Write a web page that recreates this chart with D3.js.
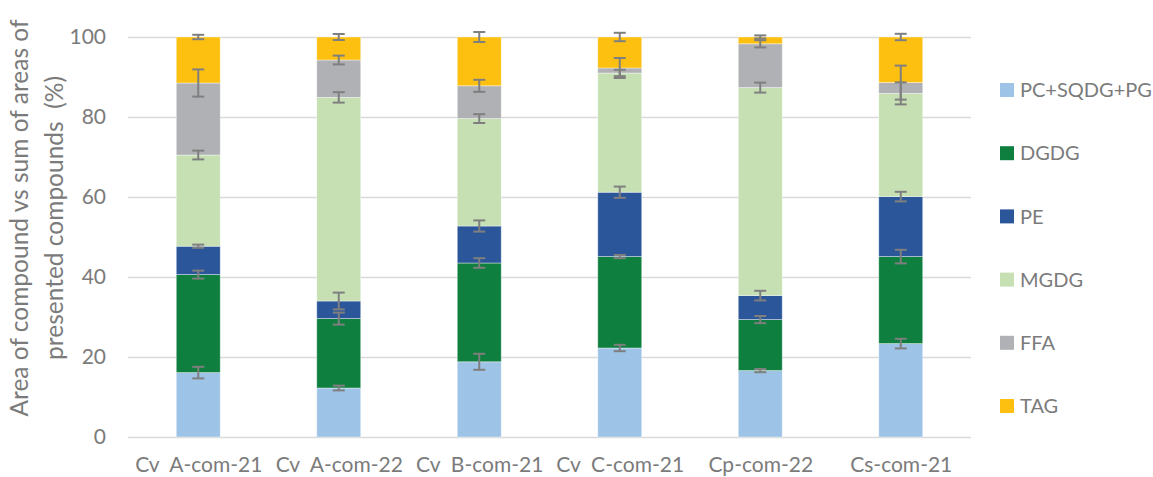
<!DOCTYPE html>
<html>
<head>
<meta charset="utf-8">
<script src="https://cdn.jsdelivr.net/npm/d3@7"></script>
<style>
  body { margin: 0; background: #fff; }
  text { font-family: Lato, "Open Sans", sans-serif; fill: #7b7b7b; }
</style>
</head>
<body>
<svg id="chart" width="1153" height="477"></svg>
<script>
// Sample groups along the x axis
const categories = ["Cv  A-com-21", "Cv  A-com-22", "Cv  B-com-21", "Cv  C-com-21", "Cp-com-22", "Cs-com-21"];
// Lipid classes, stacked bottom to top
const seriesNames = ["PC+SQDG+PG", "DGDG", "PE", "MGDG", "FFA", "TAG"];

// Share of each compound class (%) per sample
const pcSqdgPg = [16.1, 12.25, 18.8, 22.25, 16.6, 23.35];
const dgdg     = [24.5, 17.35, 24.7, 22.85, 12.75, 21.75];
const pe       = [7.1, 4.4, 9.25, 16.1, 6.0, 15.0];
const mgdg     = [22.8, 50.9, 26.85, 29.8, 52.0, 25.8];
const ffa      = [18.0, 9.35, 8.2, 1.25, 10.95, 2.7];
const tag      = [11.5, 5.75, 12.2, 7.75, 1.7, 11.4];

// Standard deviations (%) for each class
const errPcSqdgPg = [1.45, 0.6, 2.0, 0.8, 0.4, 1.2];
const errDgdg     = [1.0, 1.5, 1.2, 0.4, 0.9, 1.7];
const errPe       = [0.4, 2.1, 1.4, 1.4, 1.2, 1.2];
const errMgdg     = [1.1, 1.3, 1.1, 0.8, 1.25, 2.75];
const errFfa      = [3.4, 1.1, 1.5, 2.5, 0.9, 4.25];
const errTag      = [0.55, 0.75, 1.25, 1.05, 0.4, 0.8];

const yTicks = [0, 20, 40, 60, 80, 100];
const yTitleLines = ["Area of compound vs sum of areas of", "presented compounds  (%)"];

const colors = ["#9dc3e6", "#0e7f3e", "#2b579a", "#c6e0b4", "#b0b1b5", "#fdc011"];

const valueCols = [pcSqdgPg, dgdg, pe, mgdg, ffa, tag];
const errCols = [errPcSqdgPg, errDgdg, errPe, errMgdg, errFfa, errTag];

const rows = categories.map((c, i) => {
  const r = { category: c };
  seriesNames.forEach((s, k) => { r[s] = valueCols[k][i]; });
  return r;
});

const svg = d3.select("#chart");
const plot = { left: 128, right: 971, top: 37, bottom: 437 };

const x = d3.scaleBand()
  .domain(categories)
  .range([plot.left, plot.right])
  .paddingInner(0.687)
  .paddingOuter(0.687 / 2);

const y = d3.scaleLinear().domain([0, 100]).range([plot.bottom, plot.top]);

// Horizontal gridlines
svg.append("g")
  .attr("transform", `translate(${plot.left},0)`)
  .call(d3.axisLeft(y).tickValues(yTicks).tickSize(-(plot.right - plot.left)).tickFormat(""))
  .call(g => g.select(".domain").remove())
  .call(g => g.selectAll("line").attr("stroke", "#d9d9d9").attr("stroke-width", 1.5));

// Y tick labels
svg.append("g")
  .attr("transform", `translate(${plot.left},0)`)
  .call(d3.axisLeft(y).tickValues(yTicks).tickSize(0).tickPadding(22))
  .call(g => g.select(".domain").remove())
  .call(g => g.selectAll("text").style("font-size", "21px").attr("fill", "#7b7b7b").style("font-family", "Lato, sans-serif"));

// Stacked bars
const stacked = d3.stack().keys(seriesNames)(rows);

svg.append("g").selectAll("g")
  .data(stacked)
  .join("g")
  .attr("fill", (d, k) => colors[k])
  .selectAll("rect")
  .data(d => d)
  .join("rect")
  .attr("x", d => x(d.data.category))
  .attr("width", x.bandwidth())
  .attr("y", d => y(d[1]))
  .attr("height", d => y(d[0]) - y(d[1]))
  .attr("stroke", "#ffffff")
  .attr("stroke-opacity", 0.5)
  .attr("stroke-width", 0.8);

// Error bars at the top of each stacked segment
const capHalf = 6;
const errData = [];
stacked.forEach((layer, k) => {
  layer.forEach((d, i) => {
    errData.push({ cx: x(d.data.category) + x.bandwidth() / 2, top: d[1], err: errCols[k][i] });
  });
});

const eb = svg.append("g")
  .attr("stroke", "#7f7f7f")
  .attr("stroke-width", 2)
  .selectAll("g")
  .data(errData)
  .join("g");

eb.append("line")
  .attr("x1", d => d.cx).attr("x2", d => d.cx)
  .attr("y1", d => y(d.top + d.err)).attr("y2", d => y(d.top - d.err));
eb.append("line")
  .attr("x1", d => d.cx - capHalf).attr("x2", d => d.cx + capHalf)
  .attr("y1", d => y(d.top + d.err)).attr("y2", d => y(d.top + d.err));
eb.append("line")
  .attr("x1", d => d.cx - capHalf).attr("x2", d => d.cx + capHalf)
  .attr("y1", d => y(d.top - d.err)).attr("y2", d => y(d.top - d.err));

// X category labels
const xCenter = d3.scalePoint().domain(categories).range([plot.left, plot.right]).padding(0.5);
svg.append("g")
  .attr("transform", `translate(0,${plot.bottom})`)
  .call(d3.axisBottom(xCenter).tickSize(0).tickPadding(20))
  .call(g => g.select(".domain").remove())
  .call(g => g.selectAll("text")
    .style("font-size", "21px")
    .style("white-space", "pre")
    .attr("fill", "#7b7b7b")
    .style("font-family", "Lato, sans-serif"));

// Y axis title (two lines, rotated)
const titleBaselines = [28, 63];
const titleCenterY = 218;
svg.append("g").selectAll("text")
  .data(yTitleLines)
  .join("text")
  .attr("transform", (d, i) => `translate(${titleBaselines[i]},${titleCenterY}) rotate(-90)`)
  .attr("text-anchor", "middle")
  .style("font-size", "24.5px")
  .style("white-space", "pre")
  .text(d => d);

// Legend
const legendY = d3.scalePoint().domain(seriesNames).range([90, 406]);
const legend = svg.append("g").selectAll("g")
  .data(seriesNames)
  .join("g")
  .attr("transform", d => `translate(1000,${legendY(d)})`);
legend.append("rect")
  .attr("x", 0).attr("y", -7).attr("width", 14).attr("height", 14)
  .attr("fill", (d, k) => colors[k]);
legend.append("text")
  .attr("x", 20).attr("dy", "0.36em")
  .style("font-size", "20px")
  .text(d => d);
</script>
</body>
</html>
